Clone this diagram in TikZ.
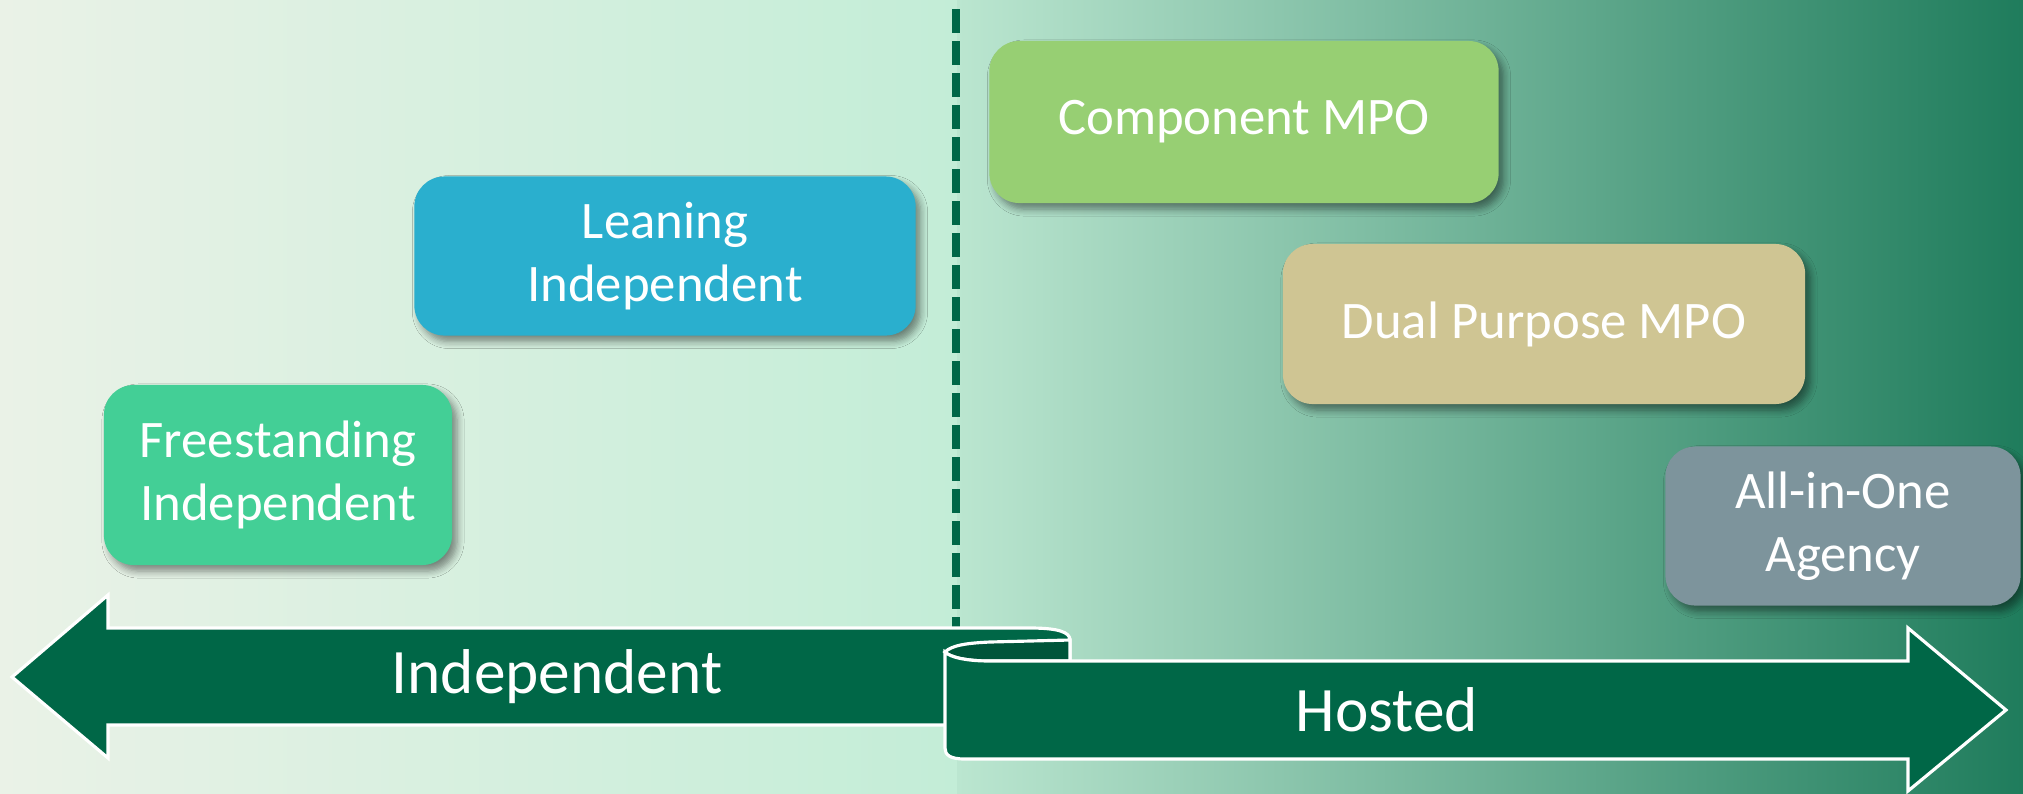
\documentclass[tikz,border=0pt]{standalone}
\usepackage{fontspec}
\setmainfont{Carlito}
\usetikzlibrary{shadows.blur}

\definecolor{bandgreen}{HTML}{006747}
\definecolor{rollgreen}{HTML}{00553A}
\definecolor{bgleft}{HTML}{EAF2E7}
\definecolor{bgmid}{HTML}{C3EDD7}
\definecolor{bgmidb}{HTML}{BBE6D0}
\definecolor{bgright}{HTML}{1F7C5C}
\definecolor{freecol}{HTML}{43CF96}
\definecolor{leancol}{HTML}{2AAFCE}
\definecolor{compcol}{HTML}{97CF73}
\definecolor{dualcol}{HTML}{CFC593}
\definecolor{allcol}{HTML}{7D949C}

\begin{document}
\begin{tikzpicture}[x=0.01cm,y=-0.01cm,
  box/.style={rounded corners=0.3cm, text=white, align=center, inner sep=0pt,
    font=\fontsize{15}{18}\selectfont,
    blur shadow={shadow xshift=0.05cm, shadow yshift=-0.06cm,
      shadow blur radius=0.07cm, shadow blur steps=6, shadow opacity=45}},
  band/.style={fill=bandgreen, draw=white, line width=0.9pt, line join=miter},
  bandtext/.style={text=white, font=\fontsize{18}{22}\selectfont}]
\useasboundingbox (0,0) rectangle (2023,793);

% background
\shade[left color=bgleft, right color=bgmid] (0,0) rectangle (957,793);
\shade[left color=bgmidb, right color=bgright] (957,0) rectangle (2023,793);

% divider
\draw[bandgreen, line width=0.08cm, dash pattern=on 0.24cm off 0.08cm] (956,9) -- (956,640);

% independent arrow
\draw[band] (12,677) -- (108,595) -- (108,628) -- (1030,628)
  .. controls (1058,628) and (1070,632) .. (1070,640) -- (1070,725)
  -- (108,725) -- (108,758) -- cycle;
\draw[fill=rollgreen, draw=white, line width=0.9pt] (945,652)
  .. controls (952,645) and (968,643) .. (990,642) -- (1070,640) -- (1070,661)
  -- (990,661) .. controls (965,661) and (950,657) .. (945,652) -- cycle;
% hosted arrow
\draw[band] (945,652) .. controls (950,657) and (965,661) .. (990,661)
  -- (1908,661) -- (1908,628) -- (2006,710) -- (1908,791) -- (1908,759)
  -- (965,759) .. controls (950,759) and (945,755) .. (945,748) -- cycle;

\node[bandtext] (indep) at (557,677) {Independent};
\node[bandtext] (hosted) at (1387,710) {Hosted};

% the five kinds
\node[box, fill=freecol, minimum width=3.48cm, minimum height=1.80cm] (free) at (278,475) {Freestanding\\Independent};
\node[box, fill=leancol, minimum width=5.01cm, minimum height=1.59cm] (lean) at (665,256) {Leaning\\Independent};
\node[box, fill=compcol, minimum width=5.09cm, minimum height=1.62cm] (comp) at (1244,122) {Component MPO};
\node[box, fill=dualcol, minimum width=5.22cm, minimum height=1.60cm] (dual) at (1544,324) {Dual Purpose MPO};
\node[box, fill=allcol, minimum width=3.55cm, minimum height=1.59cm] (allone) at (1843,526) {All-in-One\\Agency};
\end{tikzpicture}
\end{document}
